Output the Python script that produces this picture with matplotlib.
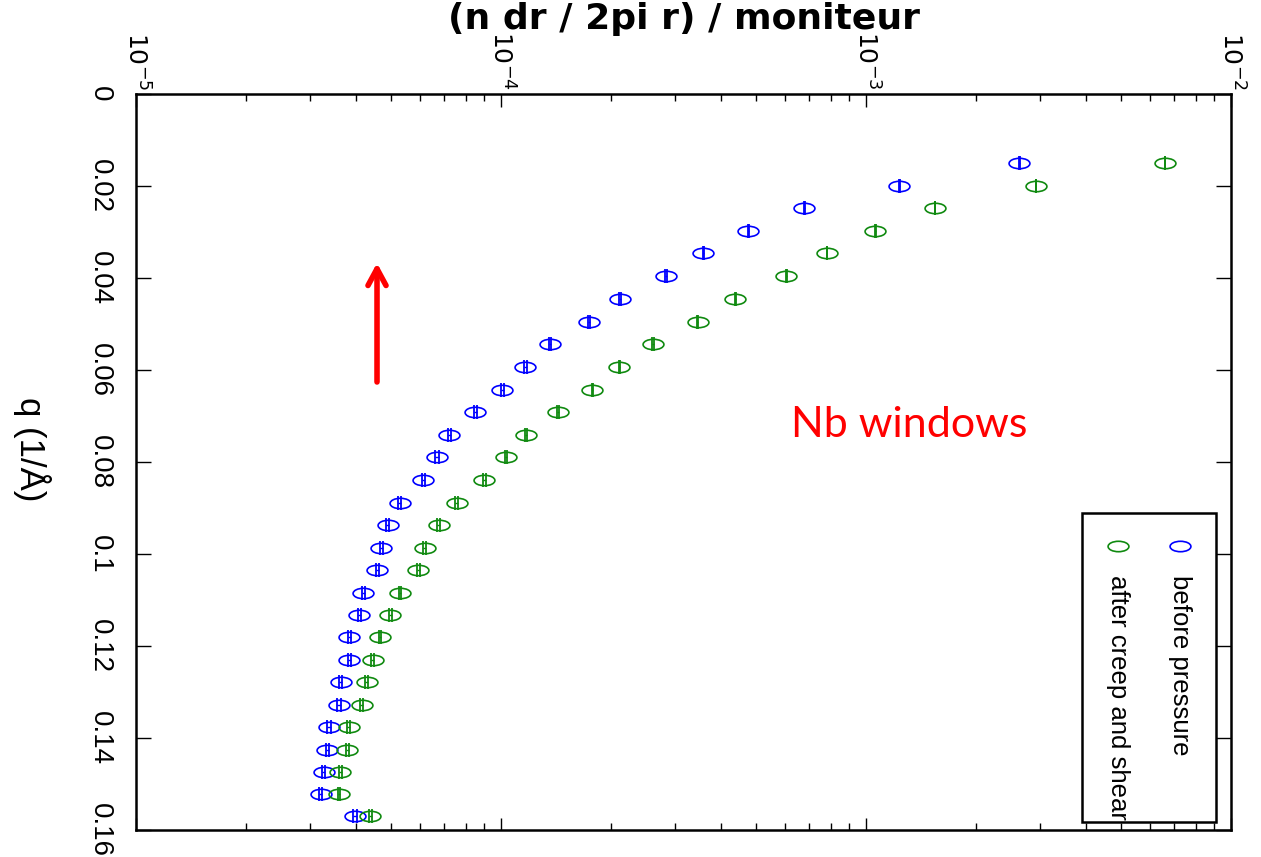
import numpy as np
import matplotlib
matplotlib.use("Agg")
import matplotlib.pyplot as plt
from matplotlib.path import Path
from matplotlib.patches import Rectangle

# ---------------- data ----------------
q = [0.0149, 0.0199, 0.0248, 0.0297, 0.0346, 0.0396, 0.0446, 0.0495, 0.0544, 0.0594,
     0.0643, 0.0692, 0.0741, 0.0790, 0.0839, 0.0889, 0.0937, 0.0986, 0.1035, 0.1085,
     0.1133, 0.1181, 0.1230, 0.1279, 0.1328, 0.1377, 0.1425, 0.1474, 0.1522, 0.1570]

before_pressure = [2.63e-3, 1.234e-3, 6.78e-4, 4.76e-4, 3.58e-4, 2.83e-4, 2.12e-4, 1.74e-4,
                   1.36e-4, 1.166e-4, 1.008e-4, 8.50e-5, 7.22e-5, 6.68e-5, 6.13e-5, 5.28e-5,
                   4.90e-5, 4.70e-5, 4.58e-5, 4.19e-5, 4.09e-5, 3.84e-5, 3.84e-5, 3.64e-5,
                   3.60e-5, 3.38e-5, 3.34e-5, 3.27e-5, 3.21e-5, 3.98e-5]

after_creep_shear = [6.60e-3, 2.92e-3, 1.545e-3, 1.06e-3, 7.82e-4, 6.04e-4, 4.38e-4, 3.46e-4,
                     2.61e-4, 2.11e-4, 1.78e-4, 1.436e-4, 1.169e-4, 1.034e-4, 9.00e-5, 7.56e-5,
                     6.75e-5, 6.18e-5, 5.93e-5, 5.29e-5, 4.97e-5, 4.66e-5, 4.45e-5, 4.29e-5,
                     4.15e-5, 3.83e-5, 3.79e-5, 3.63e-5, 3.60e-5, 4.38e-5]

# relative intensity errors
before_err_rel = [0.002, 0.002, 0.002, 0.003, 0.003, 0.004, 0.005, 0.006, 0.007, 0.008,
                  0.008, 0.009, 0.009, 0.010, 0.010, 0.010, 0.010, 0.010, 0.010, 0.010,
                  0.010, 0.010, 0.010, 0.010, 0.010, 0.010, 0.010, 0.010, 0.010, 0.010]
after_err_rel = [0.001, 0.001, 0.002, 0.002, 0.002, 0.003, 0.003, 0.003, 0.004, 0.005,
                 0.005, 0.006, 0.007, 0.007, 0.008, 0.008, 0.009, 0.009, 0.009, 0.009,
                 0.009, 0.009, 0.009, 0.009, 0.009, 0.009, 0.009, 0.009, 0.009, 0.009]

series_labels = ["before pressure", "after creep and shear"]
series_colors = ["#0000ff", "#108a10"]

q_ticks = [0, 0.02, 0.04, 0.06, 0.08, 0.1, 0.12, 0.14, 0.16]
q_ticklabels = ["0", "0.02", "0.04", "0.06", "0.08", "0.1", "0.12", "0.14", "0.16"]
i_ticks = [1e-5, 1e-4, 1e-3, 1e-2]
i_ticklabels = [r"$10^{-5}$", r"$10^{-4}$", r"$10^{-3}$", r"$10^{-2}$"]

xlabel_text = "(n dr / 2pi r) / moniteur"
ylabel_text = "q (1/Å)"
annot_text = "Nb windows"

# ---------------- style ----------------
narrow = ["Liberation Sans Narrow", "Liberation Sans", "DejaVu Sans"]
plt.rcParams["font.family"] = narrow
plt.rcParams["mathtext.fontset"] = "custom"
plt.rcParams["mathtext.rm"] = "Liberation Sans Narrow"
plt.rcParams["mathtext.it"] = "Liberation Sans Narrow"
plt.rcParams["mathtext.bf"] = "Liberation Sans Narrow"

# horizontal ellipse marker
circ = Path.unit_circle()
ell = Path(circ.vertices * np.array([1.0, 0.5]), circ.codes)

fig = plt.figure(figsize=(12.61, 8.57), dpi=100)
ax = fig.add_axes([136 / 1261, 1 - 830 / 857, 1095 / 1261, 736 / 857])

for vals, errs, col in [(before_pressure, before_err_rel, series_colors[0]),
                        (after_creep_shear, after_err_rel, series_colors[1])]:
    v = np.array(vals)
    e = v * np.array(errs)
    ax.errorbar(v, q, xerr=e, fmt="none", ecolor=col, elinewidth=1.0,
                capsize=4.8, capthick=1.3, zorder=2)
    ax.plot(v, q, linestyle="none", marker=ell, markersize=15,
            markerfacecolor="none", markeredgecolor=col, markeredgewidth=1.2, zorder=3)

ax.set_xscale("log")
ax.set_xlim(1e-5, 1e-2)
ax.set_ylim(0.16, 0)

ax.set_xticks(i_ticks)
ax.set_xticklabels(i_ticklabels)
ax.set_yticks(q_ticks)
ax.set_yticklabels(q_ticklabels)

ax.xaxis.set_ticks_position("both")
ax.yaxis.set_ticks_position("both")
ax.tick_params(axis="x", which="major", direction="in", length=9, width=1.0,
               top=True, bottom=True, labeltop=True, labelbottom=False,
               labelrotation=-90, labelsize=18, pad=3)
ax.tick_params(axis="x", which="minor", direction="in", length=5, width=1.0,
               top=True, bottom=True)
ax.tick_params(axis="y", which="major", direction="in", length=11, width=1.0,
               left=True, right=True, labelleft=True, labelright=False,
               labelrotation=-90, labelsize=20, pad=17)
ax.tick_params(axis="y", which="minor", left=False, right=False)
for lab in ax.get_yticklabels():
    lab.set_verticalalignment("center")

for s in ax.spines.values():
    s.set_linewidth(1.8)

ax.xaxis.set_label_position("top")
ax.set_xlabel(xlabel_text, fontsize=26, family="DejaVu Sans", fontweight="bold",
              va="center")
ax.xaxis.set_label_coords(0.5, (830 - 19) / 736)
ax.set_ylabel(ylabel_text, fontsize=25, rotation=-90, va="center", ha="center")
ax.yaxis.set_label_coords((32 - 136) / 1095, (830 - 449) / 736)

# manual (rotated) legend
ax.add_patch(Rectangle((0.8639, 0.0109), 0.1224, 0.4198, transform=ax.transAxes,
                       facecolor="white", edgecolor="black", linewidth=1.8, zorder=5))
for xa, lab, col in [(0.9534, series_labels[0], series_colors[0]),
                     (0.8968, series_labels[1], series_colors[1])]:
    ax.plot([xa], [0.3859], transform=ax.transAxes, linestyle="none", marker=ell,
            markersize=15, markerfacecolor="none", markeredgecolor=col,
            markeredgewidth=1.2, zorder=6, clip_on=False)
    ax.text(xa, 0.3465, lab, transform=ax.transAxes, rotation=-90, ha="center", va="top",
            fontsize=18.5, zorder=6)

# annotations
ax.annotate("", xy=(0.2201, (830 - 263) / 736), xytext=(0.2201, (830 - 382) / 736),
            xycoords="axes fraction", textcoords="axes fraction",
            arrowprops=dict(arrowstyle="->,head_length=1.2,head_width=0.65",
                            color="#ff0000", linewidth=4, shrinkA=0, shrinkB=0))
ax.text(0.7059, 0.5503, annot_text, transform=ax.transAxes, color="#ff0000",
        fontsize=31, family=["Lato", "DejaVu Sans"], ha="center", va="center")

fig.savefig("out.png", dpi=100)
